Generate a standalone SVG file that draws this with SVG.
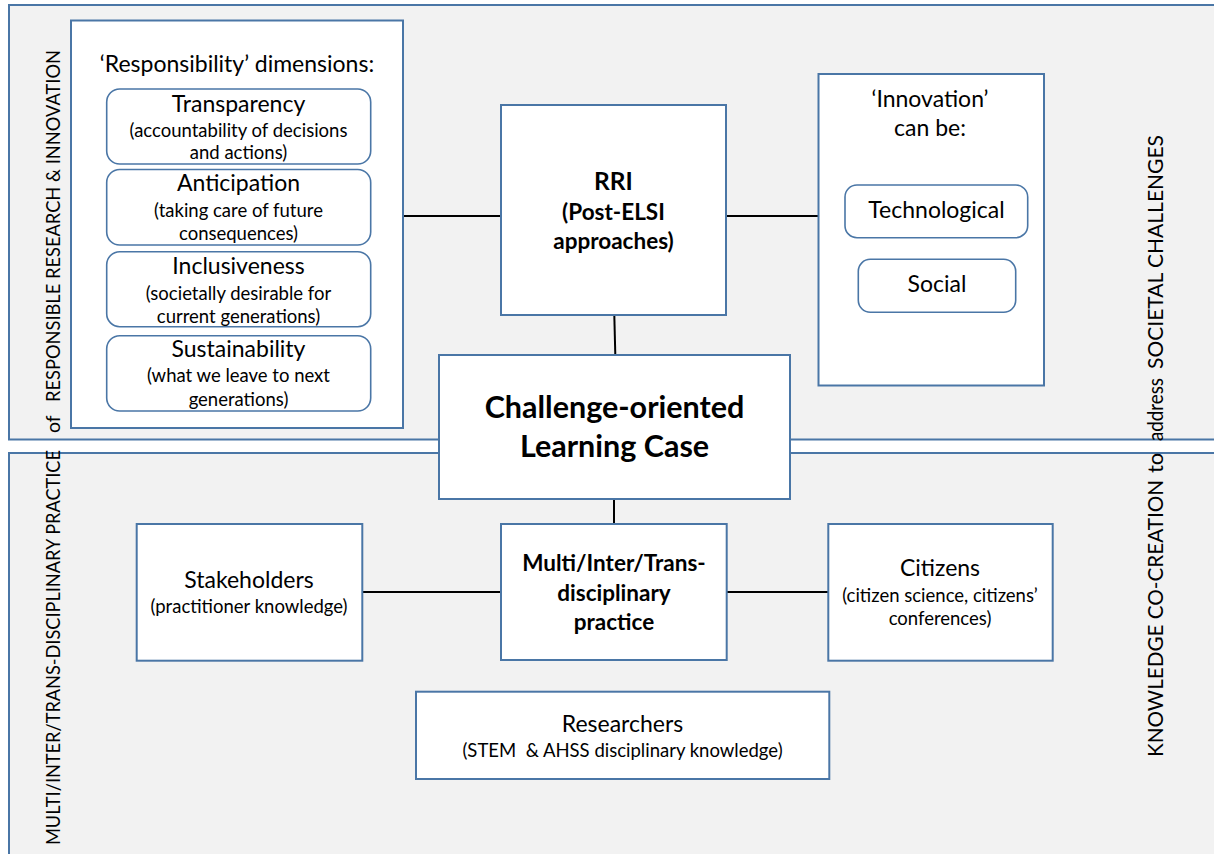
<svg xmlns="http://www.w3.org/2000/svg" width="1214" height="854" viewBox="0 0 1214 854">
  <style>
    .panel{fill:#f2f2f2;stroke:#4a76a6;stroke-width:2}
    .box{fill:#ffffff;stroke:#4a76a6;stroke-width:2}
    .rbox{fill:#ffffff;stroke:#4a76a6;stroke-width:1.6}
    #connectors line{stroke:#000000;stroke-width:2}
    text{font-family:Lato,"Liberation Sans",sans-serif;fill:#000000;text-anchor:middle}
    .t24{font-size:23px}
    .t20{font-size:18.5px}
    .b24{font-size:22.5px;font-weight:bold}
    .b27{font-size:24.5px;font-weight:bold}
    .b32{font-size:30.5px;font-weight:bold}
    .vl{font-size:19.5px;text-anchor:start}
    .vr{font-size:22px;text-anchor:start}
  </style>

  <!-- background bands -->
  <g id="band-rri">
    <rect class="panel" x="9" y="5" width="1215" height="434.5"/>
    <text class="vl" transform="translate(60,433) rotate(-90)">of</text>
    <text class="vl" transform="translate(60,402) rotate(-90)" textLength="352" lengthAdjust="spacingAndGlyphs">RESPONSIBLE RESEARCH &amp; INNOVATION</text>
  </g>
  <g id="band-practice">
    <rect class="panel" x="9" y="453" width="1215" height="410"/>
    <text class="vl" transform="translate(60,845) rotate(-90)" textLength="395" lengthAdjust="spacingAndGlyphs">MULTI/INTER/TRANS-DISCIPLINARY PRACTICE</text>
  </g>

  <!-- connectors -->
  <g id="connectors">
    <line x1="403" y1="216" x2="501" y2="216"/>
    <line x1="726" y1="216" x2="818.5" y2="216"/>
    <line x1="614.3" y1="315" x2="615.3" y2="355"/>
    <line x1="614" y1="499" x2="614" y2="524"/>
    <line x1="362" y1="592" x2="501" y2="592"/>
    <line x1="726.7" y1="592" x2="828.3" y2="592"/>
  </g>

  <!-- responsibility dimensions -->
  <g id="responsibility">
    <rect class="box" x="71" y="20.5" width="332" height="407.5"/>
    <text class="t24" x="237" y="72">‘Responsibility’ dimensions:</text>
  </g>
  <g id="transparency">
    <rect class="rbox" x="106.7" y="89" width="264" height="75" rx="13"/>
    <text class="t24" x="238.5" y="111.5">Transparency</text>
    <text class="t20" x="238.5" y="136.5">(accountability of decisions</text>
    <text class="t20" x="238.5" y="159">and actions)</text>
  </g>
  <g id="anticipation">
    <rect class="rbox" x="106.7" y="169.5" width="264" height="75.5" rx="13"/>
    <text class="t24" x="238.5" y="191">Anticipation</text>
    <text class="t20" x="238.5" y="216.5">(taking care of future</text>
    <text class="t20" x="238.5" y="240">consequences)</text>
  </g>
  <g id="inclusiveness">
    <rect class="rbox" x="106.7" y="251.7" width="264" height="75" rx="13"/>
    <text class="t24" x="238.5" y="274">Inclusiveness</text>
    <text class="t20" x="238.5" y="300">(societally desirable for</text>
    <text class="t20" x="238.5" y="323">current generations)</text>
  </g>
  <g id="sustainability">
    <rect class="rbox" x="106.7" y="335.7" width="264" height="75.3" rx="13"/>
    <text class="t24" x="238.5" y="357">Sustainability</text>
    <text class="t20" x="238.5" y="382">(what we leave to next</text>
    <text class="t20" x="238.5" y="405.5">generations)</text>
  </g>

  <!-- RRI -->
  <g id="rri">
    <rect class="box" x="501" y="105" width="225" height="210"/>
    <text class="b27" x="613.5" y="190">RRI</text>
    <text class="b24" x="613.5" y="220">(Post-ELSI</text>
    <text class="b24" x="613.5" y="249">approaches)</text>
  </g>

  <!-- innovation -->
  <g id="innovation">
    <rect class="box" x="818.5" y="74" width="225.5" height="311.5"/>
    <text class="t24" x="930" y="106.5">‘Innovation’</text>
    <text class="t24" x="930" y="136">can be:</text>
  </g>
  <g id="technological">
    <rect class="rbox" x="845" y="185" width="182.7" height="52.7" rx="12"/>
    <text class="t24" x="936.5" y="218">Technological</text>
  </g>
  <g id="social">
    <rect class="rbox" x="858.3" y="259.3" width="157.4" height="53" rx="12"/>
    <text class="t24" x="937" y="292">Social</text>
  </g>

  <!-- central case -->
  <g id="learning-case">
    <rect class="box" x="439" y="355" width="351" height="144"/>
    <text class="b32" x="614.5" y="418">Challenge-oriented</text>
    <text class="b32" x="614.5" y="457">Learning Case</text>
  </g>

  <!-- practice row -->
  <g id="stakeholders">
    <rect class="box" x="136.7" y="524" width="225.6" height="136.7"/>
    <text class="t24" x="249" y="588.3">Stakeholders</text>
    <text class="t20" x="249" y="612.7" font-size="18">(practitioner knowledge)</text>
  </g>
  <g id="disciplinary-practice">
    <rect class="box" x="501" y="524" width="225.7" height="136"/>
    <text class="b24" x="614" y="571">Multi/Inter/Trans-</text>
    <text class="b24" x="614" y="600.5">disciplinary</text>
    <text class="b24" x="614" y="629.5">practice</text>
  </g>
  <g id="citizens">
    <rect class="box" x="828.3" y="524" width="224.4" height="136.7"/>
    <text class="t24" x="940" y="576">Citizens</text>
    <text class="t20" x="940" y="601.5">(citizen science, citizens’</text>
    <text class="t20" x="940" y="625">conferences)</text>
  </g>
  <g id="researchers">
    <rect class="box" x="416" y="691.7" width="413.3" height="87.3"/>
    <text class="t24" x="622.5" y="731.5">Researchers</text>
    <text class="t20" x="622.5" y="756.5">(STEM&#160; &amp; AHSS disciplinary knowledge)</text>
  </g>

  <!-- right-hand running label -->
  <g id="label-right">
    <text class="vr" transform="translate(1163,757) rotate(-90)" textLength="277" lengthAdjust="spacingAndGlyphs">KNOWLEDGE CO-CREATION</text>
    <text class="vr" transform="translate(1163,473) rotate(-90)">to</text>
    <text class="vr" transform="translate(1163,441) rotate(-90)" textLength="63" lengthAdjust="spacingAndGlyphs">address</text>
    <text class="vr" transform="translate(1163,369) rotate(-90)" textLength="234" lengthAdjust="spacingAndGlyphs">SOCIETAL CHALLENGES</text>
  </g>
</svg>
